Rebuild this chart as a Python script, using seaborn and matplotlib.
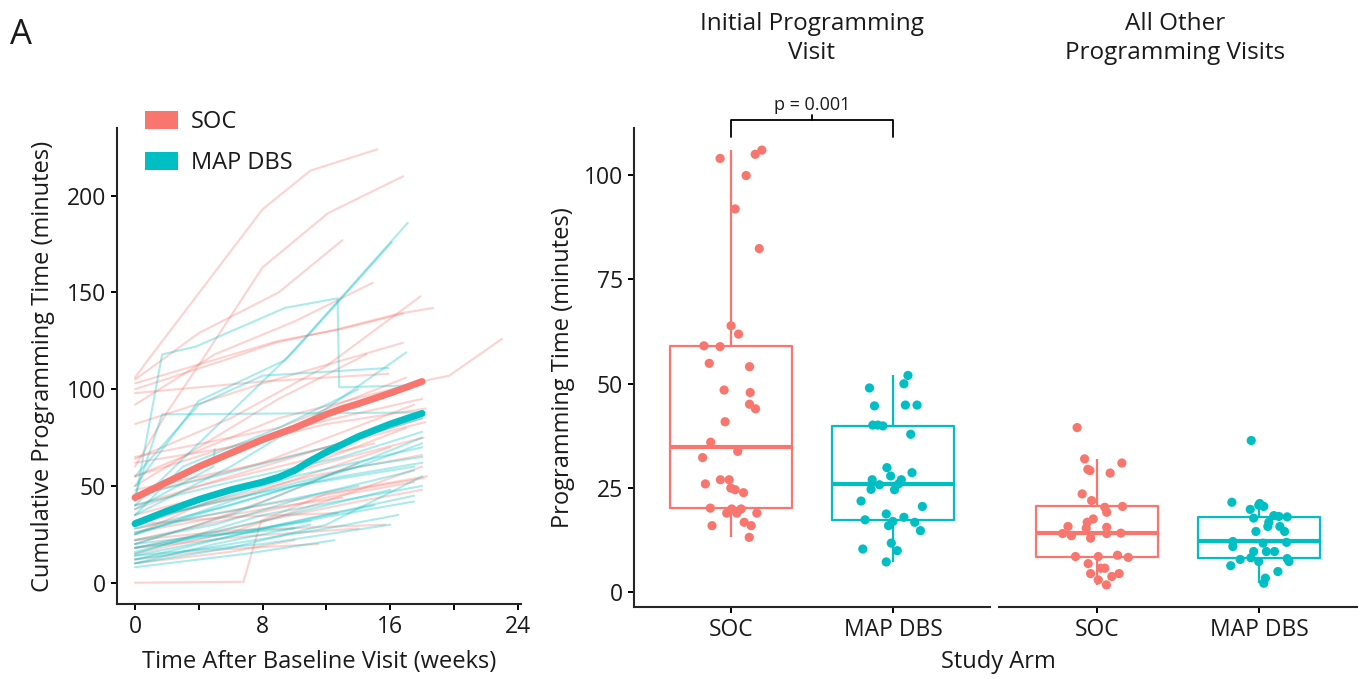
import matplotlib
matplotlib.use("Agg")
import matplotlib.pyplot as plt
from matplotlib.patches import Patch
import seaborn as sns
import pandas as pd
import numpy as np

# ---- data ----
arms = ["SOC", "MAP DBS"]
arm_colors = ["#F8766D", "#00BFC4"]

# panel A: cumulative programming time per subject (weeks, minutes)
soc_lines = [
    ([0, 0.8, 8, 11, 15.2], [106, 115, 193, 213, 224]),
    ([0, 2, 4.2, 8, 12.1, 16.8], [60, 88, 115, 163, 191, 210]),
    ([0, 4, 9, 13], [105, 129, 150, 177]),
    ([0, 5, 10, 14.9], [92, 118, 135, 155]),
    ([0, 6, 12, 17.9], [64, 85, 112, 148]),
    ([0, 5.6, 8.8, 12.7, 16.5, 18.7], [100, 115, 124, 131, 139, 142]),
    ([0, 9, 12.9, 16.8], [103, 125, 131, 139]),
    ([0, 8, 16.8], [82, 103, 124]),
    ([0, 9, 18.5, 19.7, 23], [55, 85, 105, 107, 126]),
    ([0, 8, 15.9], [98, 104, 108]),
    ([0, 6, 12, 18.2], [62, 70, 82, 90]),
    ([0, 7, 13, 18.2], [48, 60, 72, 83]),
    ([0, 6, 12, 18.1], [35, 48, 62, 75]),
    ([0, 6.8, 7.9, 12, 18.3], [0, 0.5, 32, 46, 55]),
    ([0, 8, 18.1], [28, 40, 54]),
    ([0, 6, 15.7], [22, 27, 30]),
    ([0, 6, 12.7], [30, 34, 36]),
    ([0, 5, 11.5], [12, 17, 20]),
    ([0, 7, 14], [18, 24, 28]),
    ([0, 6, 12, 18], [40, 55, 70, 85]),
    ([0, 4, 10, 17], [25, 40, 58, 80]),
    ([0, 5, 11, 18], [55, 68, 82, 95]),
    ([0, 8, 17.5], [45, 62, 92]),
    ([0, 4, 9, 14], [20, 30, 45, 62]),
    ([0, 6, 13, 18], [15, 26, 45, 60]),
    ([0, 7, 16], [32, 45, 70]),
    ([0, 6, 10], [10, 16, 22]),
    ([0, 5, 9, 14.5], [50, 75, 95, 118]),
    ([0, 9, 17], [65, 80, 106]),
    ([0, 5, 11, 18], [30, 42, 55, 66]),
    ([0, 6, 12, 17.5], [22, 33, 44, 52]),
    ([0, 4, 9, 15], [38, 50, 60, 72]),
    ([0, 7, 14, 18], [18, 30, 42, 48]),
    ([0, 8, 13], [26, 38, 44]),
]
map_lines = [
    ([0, 4, 9.4, 13, 17.1], [50, 94, 115, 148, 186]),
    ([0, 5, 10, 16.1], [40, 80, 120, 176]),
    ([0, 1.7, 3.8, 9.4, 12.7, 12.8, 17.5], [42, 118, 122, 142, 147, 101, 102]),
    ([0, 1.7, 18], [45, 87, 88]),
    ([0, 4, 8, 15.9], [55, 92, 107, 111]),
    ([0, 6, 12, 17], [35, 60, 90, 119]),
    ([0, 4.9, 5], [38, 60, 69]),
    ([0, 6, 12, 18], [20, 35, 55, 75]),
    ([0, 8, 18], [15, 35, 50]),
    ([0, 5, 10, 17.5], [25, 38, 50, 60]),
    ([0, 6, 12, 16.5], [12, 20, 28, 35]),
    ([0, 8, 15], [18, 28, 40]),
    ([0, 6, 12, 18], [10, 18, 30, 55]),
    ([0, 7, 12.5], [8, 15, 22]),
    ([0, 4, 10, 18], [30, 40, 55, 70]),
    ([0, 5, 11, 17.5], [22, 30, 45, 58]),
    ([0, 6, 14, 18], [28, 40, 60, 72]),
    ([0, 3, 9, 14], [35, 60, 80, 100]),
    ([0, 8, 16], [14, 20, 30]),
    ([0, 6, 11], [20, 26, 32]),
    ([0, 5, 12, 18], [45, 55, 70, 85]),
    ([0, 7, 14, 18], [25, 45, 60, 65]),
    ([0, 4, 10], [16, 24, 28]),
    ([0, 9, 17.5], [12, 30, 45]),
    ([0, 6, 13, 18], [40, 52, 65, 78]),
    ([0, 5, 10, 16], [18, 26, 36, 48]),
    ([0, 6, 12, 17.5], [14, 24, 34, 42]),
    ([0, 4, 9, 14], [26, 34, 42, 50]),
    ([0, 7, 13, 18], [32, 45, 55, 62]),
    ([0, 5, 11], [10, 20, 30]),
]
mean_weeks = [0, 2, 4, 6, 8, 9, 10, 11, 12, 13, 14, 16, 18]
soc_mean = [44, 52, 60, 67, 74, 77, 80, 83.5, 87, 90, 92.5, 98, 104]
map_mean = [30.5, 37, 43, 48, 52, 54.5, 58, 63, 67.5, 71.5, 75.5, 82, 87.5]

# panel B: per-visit programming time (minutes) and horizontal jitter
init_soc = [104.0, 105.0, 106.0, 99.9, 91.9, 82.4, 63.9, 61.9, 59.1, 58.9, 54.9, 54.1,
            48.5, 47.9, 45.1, 44.0, 40.9, 36.0, 33.8, 32.3, 26.0, 27.0, 27.0, 25.0,
            24.6, 23.9, 20.2, 19.0, 20.0, 19.0, 20.0, 19.0, 16.8, 16.0, 16.0, 13.2]
init_soc_jit = [-0.068, 0.149, 0.190, 0.093, 0.025, 0.174, 0.0, 0.046, -0.168, -0.068,
                -0.135, 0.114, -0.043, 0.118, 0.114, 0.151, -0.037, -0.126, 0.041, -0.176,
                -0.159, -0.066, -0.012, -0.002, 0.025, 0.077, -0.128, -0.027, 0.004, 0.035,
                0.062, 0.159, 0.081, 0.124, -0.118, 0.112]
init_map = [52.0, 50.0, 49.0, 44.7, 44.9, 44.9, 40.1, 40.1, 39.9, 37.9, 29.9, 27.9,
            28.7, 27.0, 27.0, 24.7, 25.8, 24.6, 26.0, 21.9, 20.6, 17.4, 18.8, 18.0,
            17.0, 16.0, 16.8, 14.8, 11.8, 10.0, 10.4, 7.3]
init_map_jit = [0.093, 0.068, -0.145, -0.114, 0.077, 0.149, -0.124, -0.093, -0.062, 0.110,
                -0.037, -0.014, 0.118, -0.128, 0.052, -0.135, -0.083, 0.010, 0.035, -0.197,
                0.182, -0.172, -0.041, 0.068, 0.0, -0.027, 0.135, 0.170, -0.010, 0.027,
                -0.186, -0.041]
other_soc = [39.5, 32.0, 29.5, 29.2, 31.0, 28.6, 23.6, 22.0, 20.4, 20.6, 19.2, 17.6,
             16.8, 15.8, 15.4, 15.6, 14.1, 13.6, 13.0, 14.1, 14.2, 8.6, 8.6, 8.9,
             8.4, 6.9, 5.8, 5.8, 4.5, 3.8, 4.5, 3.0, 1.8]
other_soc_jit = [-0.120, -0.074, -0.054, -0.041, 0.155, 0.083, -0.089, -0.031, 0.050, 0.159,
                 0.062, -0.021, -0.058, -0.176, -0.064, 0.062, -0.209, -0.155, -0.037, 0.062,
                 0.149, -0.130, 0.010, 0.128, 0.194, -0.052, 0.025, 0.050, -0.037, 0.093,
                 0.138, 0.010, 0.060]
other_map = [36.4, 21.6, 21.3, 20.9, 20.6, 19.9, 18.4, 18.2, 18.1, 17.8, 16.8, 15.8,
             15.8, 14.6, 14.6, 12.2, 11.0, 12.0, 11.8, 9.8, 8.3, 9.8, 9.8, 8.1,
             7.4, 7.9, 7.4, 6.4, 5.0, 3.4, 2.2]
other_map_jit = [-0.050, -0.169, 0.002, -0.004, 0.027, -0.056, 0.089, 0.120, 0.171, -0.035,
                 0.058, 0.052, 0.126, 0.155, -0.021, -0.163, -0.163, 0.167, 0.023, -0.035,
                 -0.052, 0.043, 0.093, 0.171, 0.182, -0.118, -0.004, -0.176, 0.114, 0.037,
                 0.027]

# ---- build tables ----
rows = []
for arm, lines in zip(arms, [soc_lines, map_lines]):
    for i, (wk, mins) in enumerate(lines):
        for w, m in zip(wk, mins):
            rows.append({"subject": f"{arm}-{i}", "arm": arm, "week": w, "minutes": m})
traj = pd.DataFrame(rows)
means = pd.DataFrame({
    "week": mean_weeks * 2,
    "minutes": soc_mean + map_mean,
    "arm": ["SOC"] * len(mean_weeks) + ["MAP DBS"] * len(mean_weeks),
})


def visit_table(soc_vals, soc_jit, map_vals, map_jit):
    df = pd.DataFrame({
        "arm": ["SOC"] * len(soc_vals) + ["MAP DBS"] * len(map_vals),
        "minutes": soc_vals + map_vals,
        "jit": soc_jit + map_jit,
    })
    df["pos"] = df["arm"].map({a: i for i, a in enumerate(arms)})
    df["xj"] = df["pos"] + df["jit"]
    return df


init_df = visit_table(init_soc, init_soc_jit, init_map, init_map_jit)
other_df = visit_table(other_soc, other_soc_jit, other_map, other_map_jit)

# ---- style ----
sns.set_theme(style="ticks")
plt.rcParams["font.family"] = ["Open Sans", "DejaVu Sans"]
plt.rcParams["axes.linewidth"] = 1.5
plt.rcParams["xtick.major.width"] = 1.4
plt.rcParams["ytick.major.width"] = 1.4
plt.rcParams["xtick.major.size"] = 4.5
plt.rcParams["ytick.major.size"] = 4.5
plt.rcParams["xtick.labelsize"] = 16.5
plt.rcParams["ytick.labelsize"] = 16.5
plt.rcParams["axes.labelsize"] = 17
ink = "#1a1a1a"
plt.rcParams["text.color"] = ink
plt.rcParams["xtick.color"] = "black"
plt.rcParams["ytick.color"] = "black"
plt.rcParams["xtick.labelcolor"] = ink
plt.rcParams["ytick.labelcolor"] = ink
plt.rcParams["axes.labelcolor"] = ink

palette = dict(zip(arms, arm_colors))
W, H = 1358, 679
fig = plt.figure(figsize=(W / 100, H / 100), dpi=100)

# ---- left panel ----
ax0 = fig.add_axes([117 / W, 1 - 604 / H, 404 / W, 476 / H])
sns.lineplot(data=traj, x="week", y="minutes", hue="arm", units="subject",
             estimator=None, palette=palette, alpha=0.32, lw=1.5, sort=False,
             legend=False, ax=ax0)
sns.lineplot(data=means, x="week", y="minutes", hue="arm", palette=palette,
             lw=5, legend=False, ax=ax0)
ax0.set_xlim(-1.13, 24.2)
ax0.set_ylim(-11, 235)
ax0.set_xticks(range(0, 25, 4))
ax0.set_xticklabels(["0", "", "8", "", "16", "", "24"])
ax0.set_yticks([0, 50, 100, 150, 200])
ax0.set_xlabel("Time After Baseline Visit (weeks)", labelpad=8)
ax0.set_ylabel("Cumulative Programming Time (minutes)", labelpad=8)
sns.despine(ax=ax0)

handles = [Patch(facecolor=c, edgecolor="none") for c in arm_colors]
fig.legend(handles, arms, loc="upper left", bbox_to_anchor=(124 / W, 1 - 89 / H),
           frameon=False, fontsize=17, handlelength=1.4, handleheight=0.8,
           handletextpad=0.55, labelspacing=0.7)

# ---- right panels ----
ax1 = fig.add_axes([634 / W, 1 - 607 / H, 356 / W, 479 / H])
ax2 = fig.add_axes([999 / W, 1 - 607 / H, 358 / W, 479 / H])

for ax, df in [(ax1, init_df), (ax2, other_df)]:
    sns.boxplot(data=df, x="pos", y="minutes", hue="arm", palette=palette,
                native_scale=True, fill=False, width=0.75, showfliers=False,
                linewidth=1.6, medianprops={"linewidth": 3},
                capprops={"linewidth": 0}, legend=False, ax=ax)
    sns.scatterplot(data=df, x="xj", y="minutes", hue="arm", palette=palette,
                    s=44, edgecolor="none", legend=False, ax=ax, zorder=3)
    ax.set_xlim(-0.6, 1.6)
    ax.set_ylim(-3.5, 111.3)
    ax.set_xticks([0, 1])
    ax.set_xticklabels(arms)
    ax.set_xlabel("")

ax1.set_yticks([0, 25, 50, 75, 100])
ax1.set_ylabel("Programming Time (minutes)", labelpad=6)
sns.despine(ax=ax1)
ax2.set_ylabel("")
ax2.set_yticks([])
sns.despine(ax=ax2, left=True)

# significance bracket
ax1.plot([0, 0, 1, 1], [109.2, 113.2, 113.2, 109.2], color="black", lw=1.3, clip_on=False)
ax1.plot([0.5, 0.5], [113.2, 114.4], color="black", lw=1.3, clip_on=False)
ax1.text(0.5, 114.6, "p = 0.001", ha="center", va="bottom", fontsize=13)

# facet titles and shared labels
fig.text(812 / W, 1 - 38.5 / H, "Initial Programming\nVisit", ha="center", va="center",
         fontsize=17.5, linespacing=1.3)
fig.text(1175 / W, 1 - 38.5 / H, "All Other\nProgramming Visits", ha="center", va="center",
         fontsize=17.5, linespacing=1.3)
fig.text(998 / W, 1 - 662 / H, "Study Arm", ha="center", va="center", fontsize=17)
fig.text(10 / W, 1 - 35 / H, "A", ha="left", va="center", fontsize=25)

fig.savefig("out.png", dpi=100)
